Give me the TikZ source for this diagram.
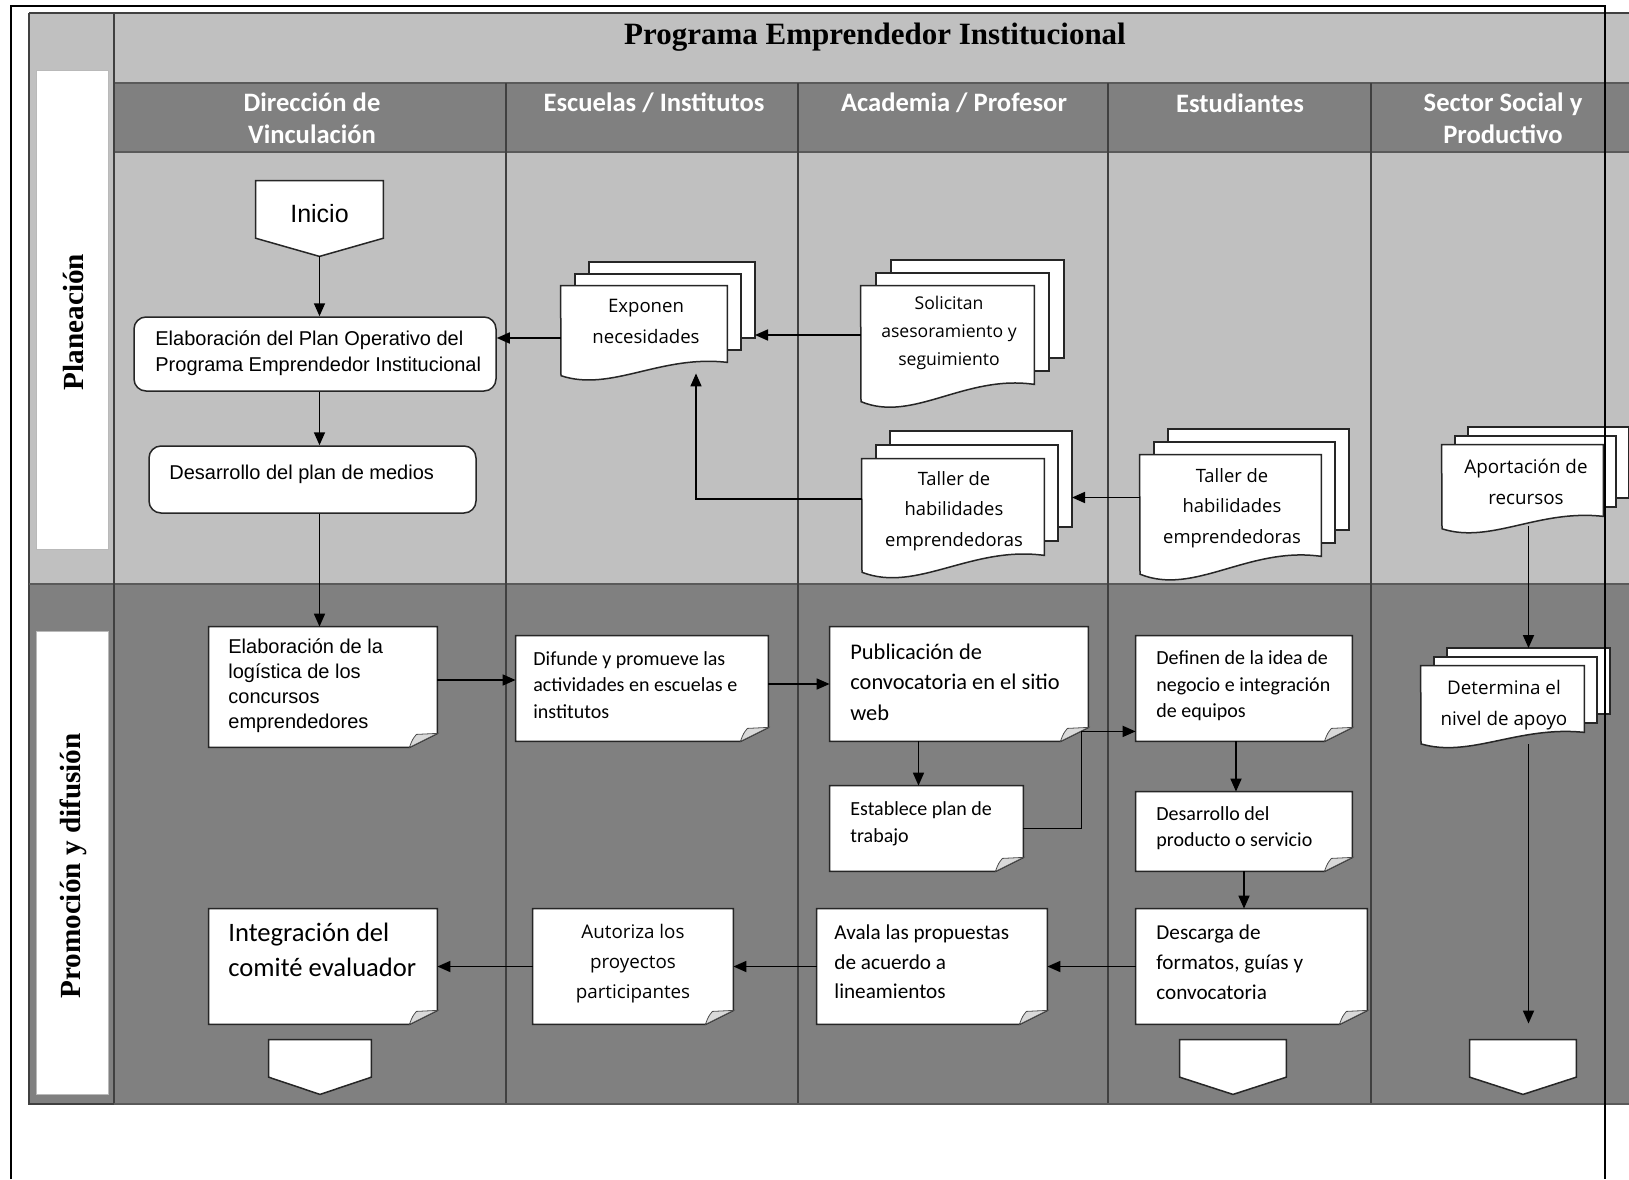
\documentclass[tikz,border=0pt]{standalone}
\usepackage{fontspec}
\setmainfont{Liberation Serif}
\newfontfamily\fcal{Carlito}
\newfontfamily\fari{Liberation Sans}
\newfontfamily\fseg{Open Sans}
\usetikzlibrary{arrows.meta,calc,fit}
\definecolor{lg}{HTML}{C0C0C0}
\definecolor{dg}{HTML}{808080}
\definecolor{colln}{HTML}{404040}
\definecolor{hl}{HTML}{5A5A5A}
\definecolor{foldgray}{HTML}{D9D9D9}
\tikzset{
 boxline/.style={draw=black!85, line width=0.75pt},
 foldline/.style={draw=black!70, line width=0.4pt},
 arr/.style={draw=black, line width=0.85pt, -{Triangle[length=6.5pt,width=5.5pt]}},
 txt/.style={inner sep=0pt, align=left, anchor=west, text=black},
 ctxt/.style={inner sep=0pt, align=center, text=black},
 htxt/.style={inner sep=0pt, align=center, text=white, font=\fcal\bfseries\fontsize{13.3}{16}\selectfont},
 colline/.style={draw=colln, line width=0.6pt},
 rowline/.style={draw=hl, line width=1pt},
 frameline/.style={draw=black, line width=1.2pt},
}
% note box with folded corner
\newcommand\notebox[5]{%
  \node[fit={(#2,#3) (#4,#5)}, inner sep=0pt] (#1) {};
  \draw[boxline, fill=white] (#1.north west) -- (#1.north east) -- ($(#1.south east)+(0,-14)$) -- ($(#1.south east)+(-28,0)$) -- (#1.south west) -- cycle;
  \draw[foldline, fill=foldgray] ($(#1.south east)+(-28,0)$) .. controls ($(#1.south east)+(-25,-8)$) .. ($(#1.south east)+(-21,-13)$) -- ($(#1.south east)+(0,-14)$) -- cycle;
}
% multi-document
\newcommand\mdoc[7]{%
  \draw[boxline, fill=white] ({#2+2*(#6)},{#3+2*(#7)}) rectangle ({#4+2*(#6)},{#5+2*(#7)});
  \draw[boxline, fill=white] ({#2+(#6)},{#3+(#7)}) rectangle ({#4+(#6)},{#5+(#7)});
  \node[fit={(#2,#3) (#4,#5)}, inner sep=0pt] (#1) {};
  \draw[boxline, fill=white] (#1.north west) -- (#1.north east) -- (#1.south east) .. controls ({#2+0.6*(#4-#2)},{#5-0.1*(#5-#3)}) and ({#2+0.3*(#4-#2)},{#5+0.4*(#5-#3)}) .. ({#2},{#5+0.18*(#5-#3)}) -- cycle;
  \coordinate (#1-b) at ({#4+2*(#6)},{(#3+#5)/2+2*(#7)});
  \coordinate (#1-t) at ({(#2+#4)/2+2*(#6)},{#3+2*(#7)});
}
% off-page connector
\newcommand\offpage[6]{%
  \node[fit={(#2,#3) (#4,#5)}, inner sep=0pt] (#1) {};
  \draw[boxline, fill=white] (#1.north west) -- (#1.north east) -- ($(#1.north east)!#6!(#1.south east)$) -- (#1.south) -- ($(#1.north west)!#6!(#1.south west)$) -- cycle;
}
\begin{document}
\begin{tikzpicture}[x=0.5pt,y=-0.5pt]
\useasboundingbox (0,0) rectangle (1629,1179);
\fill[white] (0,0) rectangle (1629,1179);
% ---------- table ----------
\fill[lg] (29,13) rectangle (1629,584);
\fill[dg] (114,83) rectangle (1629,152);
\fill[dg] (29,584) rectangle (1629,1104);
\draw[colline] (29,13) -- (1629,13);
\draw[colline] (29,13) -- (29,1104) -- (1629,1104);
\draw[rowline] (114,83) -- (1629,83);
\draw[rowline] (114,152) -- (1629,152);
\draw[rowline] (29,584) -- (1629,584);
\draw[colline] (114,13) -- (114,1104);
\foreach \cx in {506,798,1108,1371} {\draw[colline] (\cx,83) -- (\cx,1104);}
\draw[rowline] (114,1104) -- (1629,1104);
% phase label boxes
\fill[white, draw=gray!55, line width=0.5pt] (36,70) rectangle (108,549);
\fill[white, draw=gray!55, line width=0.5pt] (36,631) rectangle (108,1094);
\node[ctxt, rotate=90, font=\rmfamily\bfseries\fontsize{14.6}{17}\selectfont] (ph1) at (73,322) {Planeación};
\node[ctxt, rotate=90, font=\rmfamily\bfseries\fontsize{14.6}{17}\selectfont] (ph2) at (73,866) {Promoción y difusión};
% title and headers
\node[ctxt, font=\rmfamily\bfseries\fontsize{15.5}{18}\selectfont] (title) at (875,37) {Programa Emprendedor Institucional};
\node[htxt] (h1) at (312,118) {Dirección de\\Vinculación};
\node[htxt] (h2) at (654,103) {Escuelas / Institutos};
\node[htxt] (h3) at (954,103) {Academia / Profesor};
\node[htxt] (h4) at (1240,103) {Estudiantes};
\node[htxt] (h5) at (1503,118) {Sector Social y\\Productivo};
% ---------- Planeación ----------
\offpage{ini}{256}{181}{383}{256}{0.76}
\node[ctxt, font=\fari\fontsize{12.5}{15}\selectfont] (inil) at (319.5,214) {Inicio};
\node[fit={(134,317) (496,391)}, inner sep=0pt, boxline, fill=white, rounded corners=6pt] (elab) {};
\node[txt, font=\fari\fontsize{10}{13}\selectfont] (elabl) at (155,353) {Elaboración del Plan Operativo del\\Programa Emprendedor Institucional};
\node[fit={(149,446) (476,513)}, inner sep=0pt, boxline, fill=white, rounded corners=6pt] (dplan) {};
\node[txt, font=\fari\fontsize{10}{13}\selectfont] (dplanl) at (169,474) {Desarrollo del plan de medios};
\mdoc{exp}{561}{286}{727}{362}{14}{-12}
\node[ctxt, font=\fseg\fontsize{9.3}{15.5}\selectfont] (expl) at (646,321) {Exponen\\necesidades};
\mdoc{sol}{861}{286}{1034}{384}{15}{-13}
\node[ctxt, font=\fseg\fontsize{8.8}{13.8}\selectfont] (soll) at (949,333) {Solicitan\\asesoramiento y\\seguimiento};
\mdoc{tacad}{862}{459}{1044}{555}{14}{-14}
\node[ctxt, font=\fseg\fontsize{9.2}{15.3}\selectfont] (tacadl) at (954,511) {Taller de\\habilidades\\emprendedoras};
\mdoc{test}{1140}{455}{1321}{556}{14}{-13}
\node[ctxt, font=\fseg\fontsize{9.2}{15.3}\selectfont] (testl) at (1232,508) {Taller de\\habilidades\\emprendedoras};
\mdoc{apo}{1442}{445}{1603}{516}{13}{-9}
\node[ctxt, font=\fseg\fontsize{9.4}{15.5}\selectfont] (apol) at (1526,482) {Aportación de\\recursos};
% ---------- Promoción ----------
\notebox{log}{209}{627}{437}{747}
\node[txt, font=\fari\fontsize{10}{12.5}\selectfont] (logl) at (228,686) {Elaboración de la\\logística de los\\concursos\\emprendedores};
\notebox{dif}{516}{636}{768}{741}
\node[txt, font=\fcal\fontsize{10}{13.3}\selectfont] (difl) at (533,685) {Difunde y promueve las\\actividades en escuelas e\\institutos};
\notebox{pub}{830}{627}{1088}{741}
\node[txt, font=\fcal\fontsize{11.2}{15.2}\selectfont] (publ) at (850,682) {Publicación de\\convocatoria en el sitio\\web};
\notebox{est}{830}{786}{1023}{871}
\node[txt, font=\fcal\fontsize{10}{13.3}\selectfont] (estl) at (850,824) {Establece plan de\\trabajo};
\notebox{def}{1136}{636}{1352}{741}
\node[txt, font=\fcal\fontsize{10}{13.3}\selectfont] (defl) at (1156,686) {Definen de la idea de\\negocio e integración\\de equipos};
\notebox{dprod}{1136}{792}{1352}{871}
\node[txt, font=\fcal\fontsize{10}{13.3}\selectfont] (dprodl) at (1156,828) {Desarrollo del\\producto o servicio};
\notebox{desc}{1136}{909}{1367}{1024}
\node[txt, font=\fcal\fontsize{10.6}{15}\selectfont] (descl) at (1156,962) {Descarga de\\formatos, guías y\\convocatoria};
\notebox{ava}{817}{909}{1047}{1024}
\node[txt, font=\fcal\fontsize{10.6}{14.7}\selectfont] (aval) at (834,962) {Avala las propuestas\\de acuerdo a\\lineamientos};
\notebox{aut}{533}{909}{733}{1024}
\node[ctxt, font=\fseg\fontsize{9.4}{15}\selectfont] (autl) at (633,964) {Autoriza los\\proyectos\\participantes};
\notebox{integ}{209}{909}{437}{1024}
\node[txt, font=\fcal\fontsize{13.3}{17.5}\selectfont] (integl) at (228,950) {Integración del\\comité evaluador};
\mdoc{det}{1421}{666}{1584}{732}{13}{-9}
\node[ctxt, font=\fseg\fontsize{9.4}{15.5}\selectfont] (detl) at (1504,705) {Determina el\\nivel de apoyo};
\offpage{off1}{269}{1040}{371}{1094}{0.685}
\offpage{off2}{1180}{1040}{1286}{1094}{0.685}
\offpage{off3}{1470}{1040}{1576}{1094}{0.685}
% ---------- connectors ----------
\draw[arr] (ini.south) -- (ini.south |- elab.north);
\draw[arr] (ini.south |- elab.south) -- (ini.south |- dplan.north);
\draw[arr] (ini.south |- dplan.south) -- (ini.south |- log.north);
\draw[arr] ($(exp.west)+(0,14)$) -- ($(exp.west -| elab.east)+(0,14)$);
\draw[arr] (sol.west) -- (sol.west -| exp-b);
\draw[arr] ($(tacad.west)+(0,-8)$) -| ($(exp.south)+(52,11)$);
\draw[arr] ($(test.west)+(0,-8)$) -- ($(test.west -| tacad-b)+(0,-8)$);
\draw[arr] ($(apo.south -| det-t)+(0,10)$) -- (det-t);
\draw[arr] ($(det.south -| det-t)+(0,12)$) -- ($(off3.north -| det-t)+(0,-16)$);
\draw[arr] ($(log.east)+(0,-7)$) -- ($(log.east -| dif.west)+(0,-7)$);
\draw[arr] (dif.east |- pub.west) -- (pub.west);
\draw[arr] ($(pub.south -| est.north)+(-8,0)$) -- ($(est.north)+(-8,0)$);
\draw[arr] (est.east) -| ($(def.south west)+(-54,-10)$) -- ($(def.south west)+(0,-10)$);
\draw[arr] ($(def.south)+(-8,0)$) -- ($(dprod.north)+(-8,0)$);
\draw[arr] (dprod.south) -- (dprod.south |- desc.north);
\draw[arr] (desc.west) -- (desc.west -| ava.east);
\draw[arr] (ava.west) -- (ava.west -| aut.east);
\draw[arr] (aut.west) -- (aut.west -| integ.east);
% ---------- outer frame ----------
\draw[frameline] (11,1179) -- (11,6) -- (1605,6) -- (1605,1179);
\end{tikzpicture}
\end{document}
